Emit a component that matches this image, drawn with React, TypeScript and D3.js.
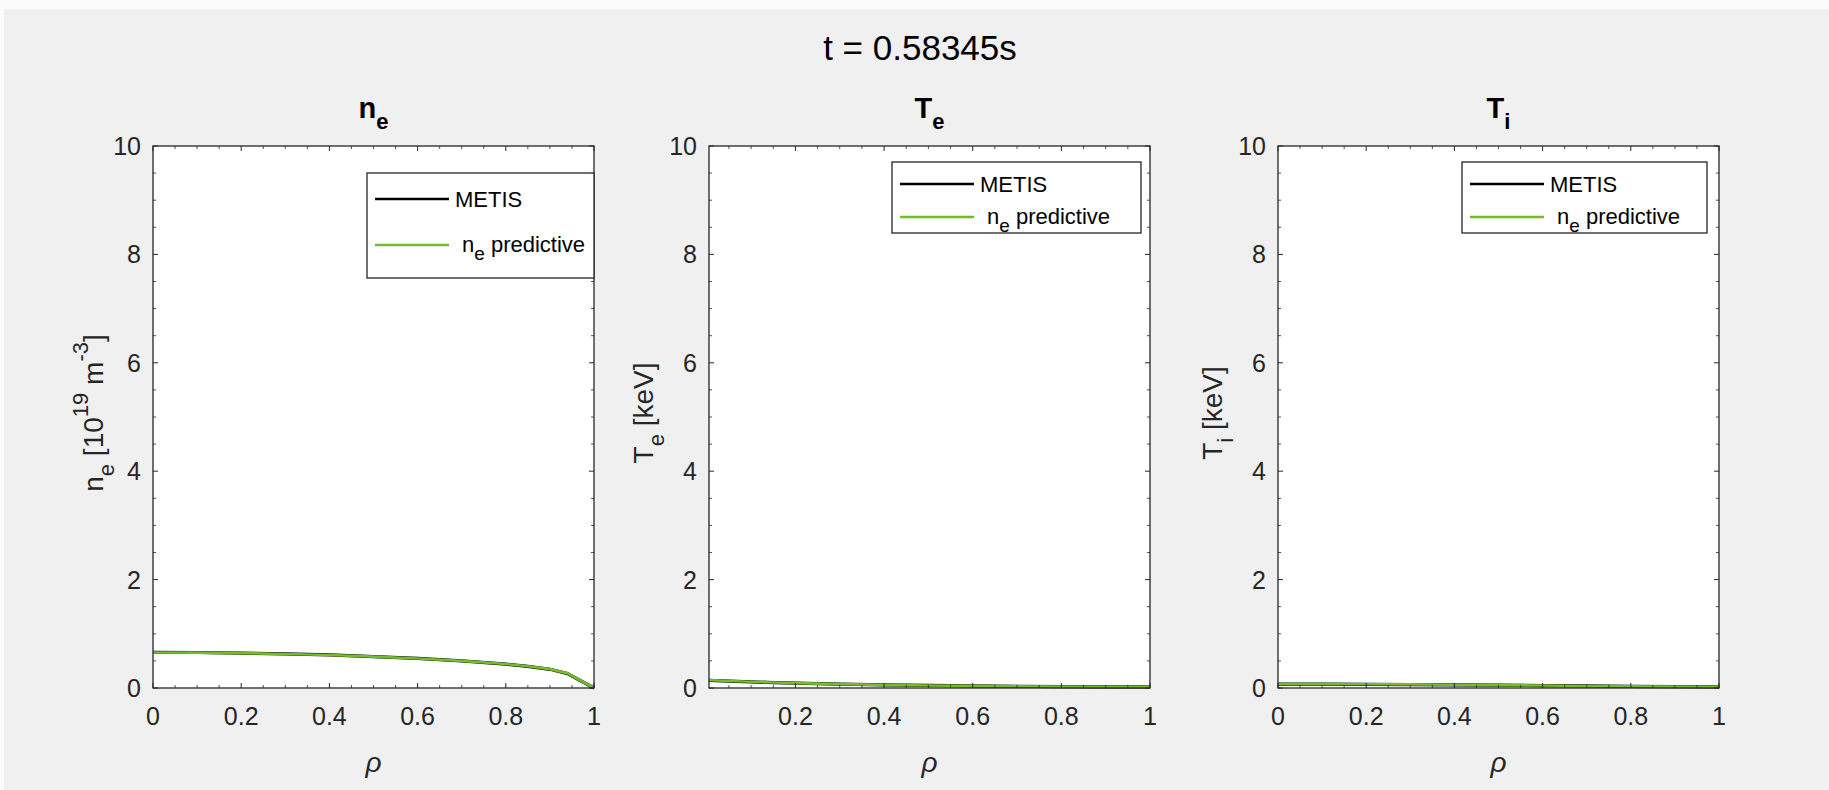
import React from 'react';
import * as d3 from 'd3';

// ---------- data ----------
const rhoNe = [0, 0.1, 0.2, 0.3, 0.4, 0.5, 0.6, 0.7, 0.8, 0.85, 0.9, 0.94, 1];
const neMetis = [0.66, 0.655, 0.645, 0.63, 0.61, 0.58, 0.545, 0.5, 0.44, 0.4, 0.345, 0.265, 0];
const nePredictive = [0.655, 0.652, 0.643, 0.628, 0.608, 0.579, 0.545, 0.5, 0.442, 0.402, 0.348, 0.27, 0];

const rhoTe = [0.005, 0.05, 0.1, 0.15, 0.2, 0.3, 0.4, 0.5, 0.6, 0.7, 0.8, 0.9, 1];
const teMetis = [0.14, 0.127, 0.113, 0.1, 0.089, 0.071, 0.057, 0.047, 0.039, 0.032, 0.026, 0.022, 0.02];
const tePredictive = [0.145, 0.13, 0.116, 0.102, 0.09, 0.072, 0.057, 0.047, 0.04, 0.032, 0.025, 0.022, 0.02];

const rhoTi = [0, 0.1, 0.2, 0.3, 0.4, 0.5, 0.6, 0.7, 0.8, 0.9, 1];
const tiMetis = [0.072, 0.071, 0.068, 0.064, 0.058, 0.052, 0.045, 0.038, 0.031, 0.025, 0.02];
const tiPredictive = [0.075, 0.073, 0.07, 0.066, 0.06, 0.053, 0.045, 0.037, 0.03, 0.025, 0.02];

const yTicks = [0, 2, 4, 6, 8, 10];
const xTicksFull = [0, 0.2, 0.4, 0.6, 0.8, 1];
const xTicksNoZero = [0.2, 0.4, 0.6, 0.8, 1];
const legendLabels = ['METIS', 'predictive'];
const figureTitle = 't = 0.58345s';

const FONT = '"Liberation Sans", Arial, Helvetica, sans-serif';
const TXT = '#262626';
const GREEN = '#74BC2A';

type Panel = {
  left: number; right: number; top: number; bottom: number;
  xDomain: [number, number]; xTicks: number[];
  rho: number[]; metis: number[]; pred: number[];
  titleMain: string; titleSub: string;
  ylabel: 'ne' | 'Te' | 'Ti'; ylabelX: number;
  legend: { x0: number; x1: number; y0: number; y1: number; r1: number; r2: number };
};

const panels: Panel[] = [
  {
    left: 153, right: 594, top: 146, bottom: 688, xDomain: [0, 1], xTicks: xTicksFull,
    rho: rhoNe, metis: neMetis, pred: nePredictive, titleMain: 'n', titleSub: 'e',
    ylabel: 'ne', ylabelX: 103,
    legend: { x0: 367, x1: 594, y0: 173, y1: 278, r1: 199, r2: 245 },
  },
  {
    left: 709, right: 1150, top: 146, bottom: 688, xDomain: [0.005, 1], xTicks: xTicksNoZero,
    rho: rhoTe, metis: teMetis, pred: tePredictive, titleMain: 'T', titleSub: 'e',
    ylabel: 'Te', ylabelX: 653,
    legend: { x0: 892, x1: 1141, y0: 162, y1: 233, r1: 184, r2: 217 },
  },
  {
    left: 1278, right: 1719, top: 146, bottom: 688, xDomain: [0, 1], xTicks: xTicksFull,
    rho: rhoTi, metis: tiMetis, pred: tiPredictive, titleMain: 'T', titleSub: 'i',
    ylabel: 'Ti', ylabelX: 1222,
    legend: { x0: 1462, x1: 1707, y0: 162, y1: 233, r1: 184, r2: 217 },
  },
];

function Axes({ p }: { p: Panel }) {
  const x = d3.scaleLinear().domain(p.xDomain).range([p.left, p.right]);
  const y = d3.scaleLinear().domain([0, 10]).range([p.bottom, p.top]);
  const line = d3.line<number>().x((_, i) => x(p.rho[i])).y((d) => y(d));
  const xMinor = d3.range(0, 1.0001, 0.05).filter((v) => v >= p.xDomain[0] && !p.xTicks.some((t) => Math.abs(t - v) < 1e-6));
  const yMinor = d3.range(0, 10.0001, 0.5).filter((v) => !yTicks.some((t) => Math.abs(t - v) < 1e-6));
  const MAJ = 5, MIN = 3;
  const cx = (p.left + p.right) / 2;
  const cy = (p.top + p.bottom) / 2;
  const lg = p.legend;
  return (
    <g>
      <rect x={p.left} y={p.top} width={p.right - p.left} height={p.bottom - p.top} fill="#ffffff" />
      {/* data */}
      <path d={line(p.metis) || ''} fill="none" stroke="#000" strokeWidth={3.2} strokeLinejoin="round" />
      <path d={line(p.pred) || ''} fill="none" stroke={GREEN} strokeWidth={2.6} strokeLinejoin="round" />
      {/* ticks */}
      {p.xTicks.map((t) => (
        <g key={'xt' + t}>
          <line x1={x(t)} x2={x(t)} y1={p.bottom} y2={p.bottom - MAJ} stroke={TXT} />
          <line x1={x(t)} x2={x(t)} y1={p.top} y2={p.top + MAJ} stroke={TXT} />
          <text x={x(t)} y={p.bottom + 37} textAnchor="middle" fontSize={25} fill={TXT} fontFamily={FONT}>{String(t)}</text>
        </g>
      ))}
      {xMinor.map((t) => (
        <g key={'xm' + t}>
          <line x1={x(t)} x2={x(t)} y1={p.bottom} y2={p.bottom - MIN} stroke={TXT} strokeWidth={0.8} />
          <line x1={x(t)} x2={x(t)} y1={p.top} y2={p.top + MIN} stroke={TXT} strokeWidth={0.8} />
        </g>
      ))}
      {yTicks.map((t) => (
        <g key={'yt' + t}>
          <line x1={p.left} x2={p.left + MAJ} y1={y(t)} y2={y(t)} stroke={TXT} />
          <line x1={p.right} x2={p.right - MAJ} y1={y(t)} y2={y(t)} stroke={TXT} />
          <text x={p.left - 12} y={y(t) + 9} textAnchor="end" fontSize={25} fill={TXT} fontFamily={FONT}>{String(t)}</text>
        </g>
      ))}
      {yMinor.map((t) => (
        <g key={'ym' + t}>
          <line x1={p.left} x2={p.left + MIN} y1={y(t)} y2={y(t)} stroke={TXT} strokeWidth={0.8} />
          <line x1={p.right} x2={p.right - MIN} y1={y(t)} y2={y(t)} stroke={TXT} strokeWidth={0.8} />
        </g>
      ))}
      <rect x={p.left} y={p.top} width={p.right - p.left} height={p.bottom - p.top} fill="none" stroke={TXT} strokeWidth={1.3} />
      {/* x label */}
      <text x={cx} y={p.bottom + 84} textAnchor="middle" fontSize={28} fontStyle="italic" fill={TXT} fontFamily={FONT}>ρ</text>
      {/* title */}
      <text x={cx} y={118} textAnchor="middle" fontSize={29} fontWeight="bold" fill="#000" fontFamily={FONT}>
        <tspan>{p.titleMain}</tspan>
        <tspan dy={11} fontSize={22}>{p.titleSub}</tspan>
      </text>
      {/* y label */}
      <text transform={`translate(${p.ylabelX},${cy - 4}) rotate(-90)`} textAnchor="middle" fontSize={28} fill={TXT} fontFamily={FONT}>
        {p.ylabel === 'ne' ? (
          <>
            <tspan>n</tspan>
            <tspan dy={11} fontSize={22}>e</tspan>
            <tspan dy={-11}> [10</tspan>
            <tspan dy={-15} fontSize={22}>19</tspan>
            <tspan dy={15}> m</tspan>
            <tspan dy={-15} fontSize={22}>-3</tspan>
            <tspan dy={15}>]</tspan>
          </>
        ) : (
          <>
            <tspan>T</tspan>
            <tspan dy={11} fontSize={22}>{p.ylabel === 'Te' ? 'e' : 'i'}</tspan>
            <tspan dy={-11}> [keV]</tspan>
          </>
        )}
      </text>
      {/* legend */}
      <rect x={lg.x0} y={lg.y0} width={lg.x1 - lg.x0} height={lg.y1 - lg.y0} fill="#ffffff" stroke={TXT} strokeWidth={1.3} />
      <line x1={lg.x0 + 8} x2={lg.x0 + 82} y1={lg.r1} y2={lg.r1} stroke="#000" strokeWidth={2.4} />
      <line x1={lg.x0 + 8} x2={lg.x0 + 82} y1={lg.r2} y2={lg.r2} stroke={GREEN} strokeWidth={2.4} />
      <text x={lg.x0 + 88} y={lg.r1 + 8} fontSize={22} fill="#000" fontFamily={FONT}>{legendLabels[0]}</text>
      <text x={lg.x0 + 95} y={lg.r2 + 7} fontSize={22} fill="#000" fontFamily={FONT}>
        <tspan>n</tspan>
        <tspan dy={8} fontSize={19}>e</tspan>
        <tspan dy={-8}>{' ' + legendLabels[1]}</tspan>
      </text>
    </g>
  );
}

export default function App() {
  return (
    <svg width={1829} height={790} style={{ position: 'absolute', left: 0, top: 0, display: 'block' }}>
      <rect x={0} y={0} width={1829} height={790} fill="#fbfbfb" />
      <rect x={4} y={9} width={1825} height={781} fill="#f0f0f0" />
      <text x={920} y={60} textAnchor="middle" fontSize={35} fill="#000" fontFamily={FONT}>{figureTitle}</text>
      {panels.map((p, i) => (
        <Axes key={i} p={p} />
      ))}
    </svg>
  );
}
